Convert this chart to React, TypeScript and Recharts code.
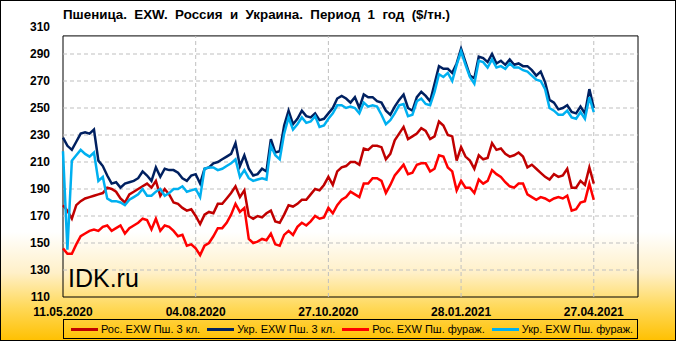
import React from 'react';
import { LineChart, Line, XAxis, YAxis, ReferenceLine, ReferenceArea, Legend } from 'recharts';

// x positions (trading-day index), ticks every 60 points
const idx: number[] = Array.from({ length: 121 }, (_, k) => k * 2);
const tickIdx = [0, 60, 120, 180, 240];
const tickLabels = ['11.05.2020', '04.08.2020', '27.10.2020', '28.01.2021', '27.04.2021'];
const yTicks = [110, 130, 150, 170, 190, 210, 230, 250, 270, 290, 310];
const gridY = [130, 150, 170, 190, 210, 230, 250, 270, 290];

const seriesNames = ['Рос. EXW Пш. 3 кл.', 'Укр. EXW Пш. 3 кл.', 'Рос. EXW Пш. фураж.', 'Укр. EXW Пш. фураж.'];

const rus3 = [
  178, 174, 168, 178, 181, 183, 184, 185, 186, 187, 191, 190, 188, 183, 180, 186, 188, 190, 192, 194, 191,
  196, 185, 190, 186, 180, 179, 176, 174, 175, 170, 164, 171, 173, 172, 179, 179, 183, 187, 192,
  184, 189, 170, 168, 170, 169, 172, 174, 166, 165, 171, 178, 177, 179, 182, 182, 186, 190, 189, 193,
  199, 193, 203, 206, 207, 210, 210, 208, 220, 219, 222, 222, 221, 212, 216, 226, 231, 236, 227, 229,
  231, 235, 233, 227, 229, 240, 237, 230, 229, 211, 221, 214, 211, 205, 215, 212, 213, 224, 219, 220,
  216, 214, 215, 217, 214, 206, 208, 205, 202, 199, 197, 201, 199, 200, 205, 191, 191, 196, 193, 206, 194,
];

const ukr3 = [
  228, 222, 219, 225, 231, 232, 231, 234, 211, 207, 200, 194, 195, 191, 194, 195, 196, 198, 203, 200, 196,
  206, 199, 205, 204, 204, 202, 198, 196, 200, 201, 194, 205, 206, 209, 210, 212, 214, 216, 224,
  207, 215, 205, 200, 201, 205, 203, 227, 217, 218, 237, 248, 238, 242, 248, 244, 243, 246, 241, 242,
  246, 250, 257, 259, 257, 254, 258, 250, 260, 258, 258, 255, 254, 248, 245, 251, 256, 260, 250, 248,
  258, 262, 259, 255, 268, 281, 279, 279, 276, 283, 294, 284, 274, 272, 288, 287, 284, 290, 283, 285,
  282, 286, 282, 283, 281, 281, 278, 274, 277, 269, 256, 254, 249, 250, 252, 247, 246, 251, 246, 264, 250,
];

const rusF = [
  146, 142, 142, 149, 155, 157, 159, 160, 159, 162, 163, 159, 161, 163, 157, 161, 163, 165, 168, 167, 160,
  168, 159, 163, 162, 159, 155, 156, 148, 149, 146, 141, 148, 150, 155, 161, 161, 165, 171, 179,
  173, 176, 153, 150, 151, 153, 152, 157, 149, 148, 156, 159, 156, 162, 165, 163, 166, 170, 168, 169,
  176, 172, 178, 182, 184, 188, 186, 184, 194, 194, 198, 198, 196, 187, 193, 200, 204, 208, 201, 202,
  208, 209, 209, 203, 205, 215, 214, 206, 203, 189, 196, 191, 191, 187, 197, 194, 196, 204, 201, 199,
  195, 192, 191, 194, 194, 186, 184, 182, 184, 183, 181, 183, 184, 183, 185, 174, 175, 180, 181, 194, 182,
];

const ukrF = [
  218, 145, 211, 215, 219, 216, 214, 217, 196, 199, 183, 181, 181, 180, 178, 182, 184, 186, 190, 185, 185,
  188, 190, 185, 187, 190, 190, 192, 188, 189, 190, 184, 205, 206, 206, 204, 205, 207, 209, 212,
  199, 204, 198, 196, 197, 198, 197, 222, 215, 212, 231, 243, 234, 238, 243, 239, 240, 244, 236, 237,
  242, 246, 252, 252, 250, 251, 250, 246, 254, 251, 252, 251, 245, 238, 241, 246, 252, 253, 244, 245,
  255, 257, 253, 252, 262, 275, 273, 276, 270, 282, 292, 282, 273, 268, 285, 284, 280, 286, 280, 281,
  279, 283, 280, 280, 278, 277, 274, 271, 270, 264, 250, 248, 245, 245, 248, 243, 242, 247, 242, 258, 247,
];

const W = 676;
const H = 341;
const FONT = '"Liberation Sans", Arial, sans-serif';
const colors = ['#C00000', '#002060', '#FF0000', '#00B0F0'];
const keys = ['rus3', 'ukr3', 'rusF', 'ukrF'];

const data = idx.map((x, k) => ({ x, rus3: rus3[k], ukr3: ukr3[k], rusF: rusF[k], ukrF: ukrF[k] }));

const renderLegend = () => (
  <div
    style={{
      display: 'flex',
      alignItems: 'center',
      height: '100%',
      paddingLeft: 7,
      gap: 7,
      fontFamily: FONT,
      fontSize: 11,
      color: '#000',
      whiteSpace: 'nowrap',
    }}
  >
    {keys.map((k, i) => (
      <div key={k} style={{ display: 'flex', alignItems: 'center', gap: 3 }}>
        <div style={{ width: 27, height: 3, background: colors[i] }} />
        <span>{seriesNames[i]}</span>
      </div>
    ))}
  </div>
);

export default function App() {
  return (
    <div
      style={{
        position: 'fixed',
        left: 0,
        top: 0,
        width: W,
        height: H,
        overflow: 'hidden',
        background:
          'linear-gradient(to bottom, #FFFFFF 0%, #FFFFFF 68%, #FFF0C8 80%, #FFD95A 90%, #FFC000 100%)',
      }}
    >
      <div style={{ position: 'absolute', left: 0, top: 0 }}>
        <LineChart width={W} height={H} data={data} margin={{ top: 27, right: 38, bottom: 4, left: 0 }}>
          <XAxis
            dataKey="x"
            type="number"
            domain={[0, 260]}
            ticks={tickIdx}
            tickFormatter={(v: number) => tickLabels[tickIdx.indexOf(v)] ?? ''}
            axisLine={false}
            tickLine={false}
            tickSize={0}
            tickMargin={10}
            height={20}
            interval={0}
            tick={{ fill: '#000', fontSize: 12, fontWeight: 'bold', fontFamily: FONT }}
          />
          <YAxis
            type="number"
            domain={[110, 310]}
            ticks={yTicks}
            axisLine={false}
            tickLine={false}
            tickSize={0}
            tickMargin={13}
            width={63}
            interval={0}
            tick={{ fill: '#000', fontSize: 12, fontWeight: 'bold', fontFamily: FONT }}
          />
          {gridY.map((v) => (
            <ReferenceLine key={'gy' + v} y={v} stroke="#BFBFBF" strokeDasharray="4 3" strokeWidth={1} />
          ))}
          {tickIdx.slice(1).map((v) => (
            <ReferenceLine
              key={'gx' + v}
              segment={[
                { x: v, y: 110 },
                { x: v, y: 303.4 },
              ]}
              stroke="#BFBFBF"
              strokeDasharray="4 3"
              strokeWidth={1}
            />
          ))}
          <ReferenceArea x1={0} x2={260} y1={110} y2={303.4} fill="none" fillOpacity={0} stroke="#000" strokeWidth={1} />
          {keys.map((k, i) => (
            <Line
              key={k}
              dataKey={k}
              name={seriesNames[i]}
              stroke={colors[i]}
              strokeWidth={2.5}
              dot={false}
              activeDot={false}
              isAnimationActive={false}
              type="linear"
            />
          ))}
          <Legend
            verticalAlign="bottom"
            content={renderLegend}
            wrapperStyle={{
              left: 63,
              bottom: 2,
              width: 575,
              height: 20,
              border: '1px solid #000',
              boxSizing: 'border-box',
            }}
          />
        </LineChart>
      </div>
      <svg
        width={W}
        height={H}
        style={{ position: 'absolute', left: 0, top: 0, pointerEvents: 'none' }}
      >
        <text
          x={63}
          y={19}
          fontFamily={FONT}
          fontWeight="bold"
          fontSize={12.5}
          fill="#000"
          textLength={387}
          lengthAdjust="spacingAndGlyphs"
          style={{ whiteSpace: 'pre' }}
        >
          {'Пшеница.  EXW.  Россия  и  Украина.  Период  1  год  ($/тн.)'}
        </text>
        <text x={68} y={287} fontFamily={FONT} fontSize={25} fill="#000">
          IDK.ru
        </text>
        <rect x={0.5} y={0.5} width={W - 1} height={H - 1} fill="none" stroke="#000" strokeWidth={1} />
      </svg>
    </div>
  );
}
